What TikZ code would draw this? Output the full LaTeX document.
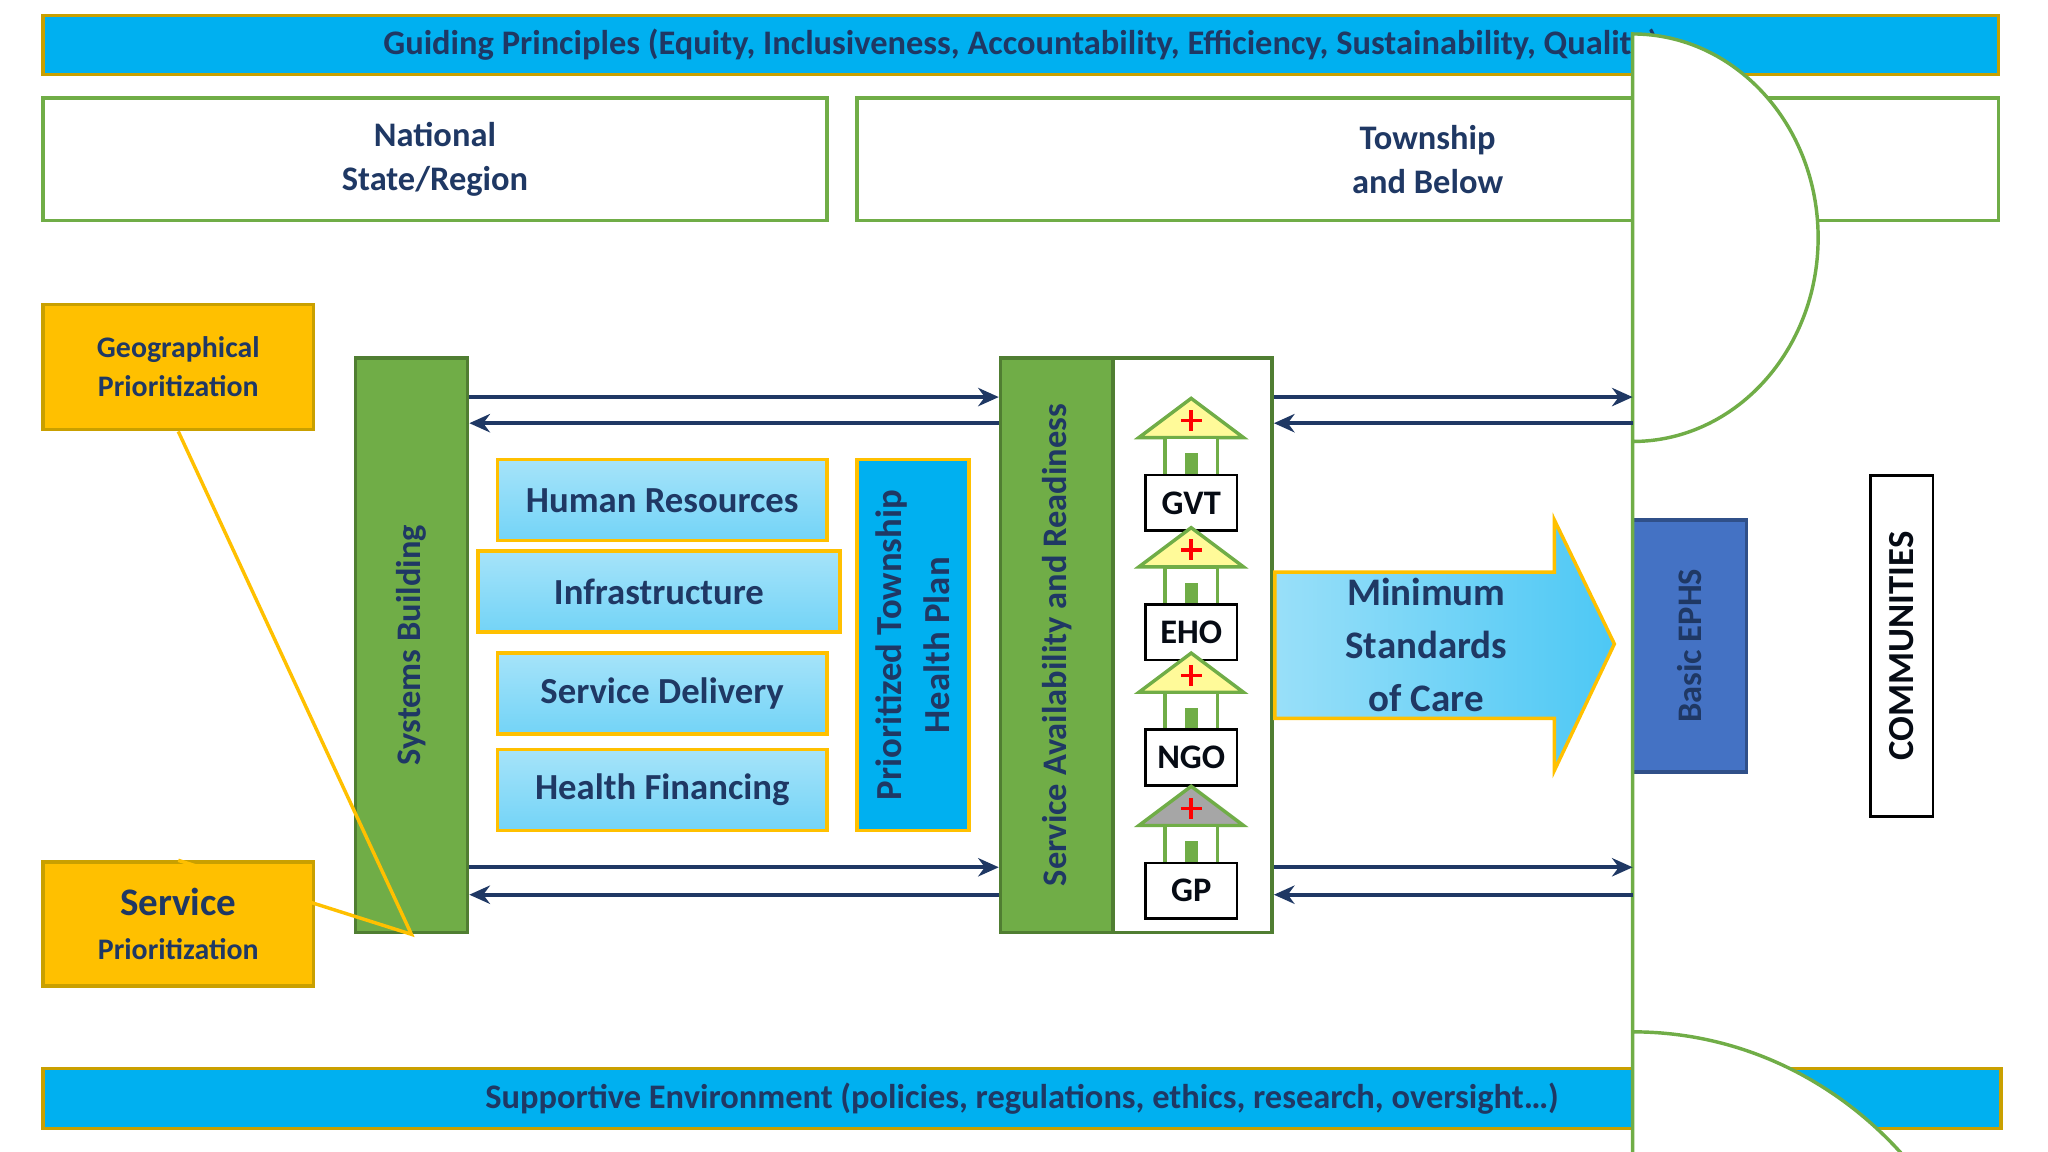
\documentclass[tikz,border=0pt]{standalone}
\usepackage{fontspec}
\setmainfont{Carlito}
\usetikzlibrary{arrows.meta,calc}
\definecolor{navy}{HTML}{1F3864}
\definecolor{cyanbar}{HTML}{00B0F0}
\definecolor{goldbd}{HTML}{C9A000}
\definecolor{amber}{HTML}{FFC000}
\definecolor{leaf}{HTML}{70AD47}
\definecolor{leafdk}{HTML}{507E32}
\definecolor{ephs}{HTML}{4472C4}
\newcommand\boxat[7]{\node[#1,minimum width={(#5-#3)*0.02cm},minimum height={(#6-#4)*0.02cm}] (#2) at ({(#3+#5)/2},{(#4+#6)/2}) {#7};}
\newcommand\vboxat[7]{\node[#1,rotate=90,minimum height={(#5-#3)*0.02cm},minimum width={(#6-#4)*0.02cm}] (#2) at ({(#3+#5)/2},{(#4+#6)/2}) {#7};}
\begin{document}
\begin{tikzpicture}[x=0.02cm,y=-0.02cm,
	font=\bfseries\fontsize{15}{19}\selectfont, text=navy,
	bar/.style={draw=goldbd,line width=1.5pt,fill=cyanbar,inner sep=0pt},
	level/.style={draw=leaf,line width=1.5pt,fill=white,inner sep=0pt,align=center},
	prio/.style={draw=goldbd,line width=1.5pt,fill=amber,inner sep=0pt,align=center},
	pillar/.style={draw=leafdk,line width=1.5pt,fill=leaf,inner sep=0pt},
	block/.style={draw=amber,line width=1.5pt,top color=cyanbar!35,bottom color=cyanbar!55,inner sep=0pt,font=\bfseries\fontsize{16}{19}\selectfont},
	tag/.style={draw=black,line width=1.2pt,fill=white,inner sep=0pt,text=black!80!navy},
	link/.style={navy,line width=1.8pt,-{Stealth[length=9pt,width=8pt]}}]
	\useasboundingbox (0,0) rectangle (1568,882);
	% bars and levels
	\boxat{bar}{top}{33}{12}{1530}{57}{Guiding Principles (Equity, Inclusiveness, Accountability, Efficiency, Sustainability, Quality)}
	\boxat{bar}{bottom}{33}{818}{1532}{864}{Supportive Environment (policies, regulations, ethics, research, oversight\dots)}
	\boxat{level}{nat}{33}{75}{633}{169}{National\\State/Region}
	\boxat{level}{town}{656}{75}{1530}{169}{Township\\and Below}
	% prioritization
	\boxat{prio,font=\bfseries\fontsize{13}{17}\selectfont}{geo}{33}{233}{240}{329}{Geographical\\Prioritization}
	\boxat{prio}{serv}{33}{660}{240}{755}{{\fontsize{17}{20}\selectfont Service}\\{\fontsize{13}{17}\selectfont Prioritization}}
	\vboxat{pillar}{sys}{272}{274}{358}{714}{Systems Building}
	\draw[amber,line width=1.5pt] (geo.south) -- (sys.west) -- (serv.north);
	% building blocks
	\boxat{block}{hr}{381}{352}{633}{414}{Human Resources}
	\boxat{block}{infra}{366}{422}{643}{484}{Infrastructure}
	\boxat{block}{sd}{381}{500}{633}{562}{Service Delivery}
	\boxat{block}{hf}{381}{574}{633}{636}{Health Financing}
	\vboxat{bar,draw=amber,align=center,font=\bfseries\fontsize{16}{21}\selectfont}{plan}{656}{352}{742}{636}{Prioritized Township\\Health Plan}
	% service availability
	\vboxat{pillar}{sar}{766}{274}{852}{714}{Service Availability and Readiness}
	\boxat{level,draw=leafdk}{fac}{852}{274}{974}{714}{}
	\foreach \y/\lbl/\roof in {305/GVT/yellow!40, 404/EHO/yellow!40, 500/NGO/yellow!40, 602/GP/gray!70}{
		\draw[leaf,line width=1.5pt,fill=\roof] (872,\y+30) -- (912,\y) -- (952,\y+30) -- cycle;
		\draw[leaf,line width=1.5pt,fill=white] (892,\y+30) rectangle (932,\y+62);
		\fill[leaf] (907,\y+42) rectangle (917,\y+62);
		\draw[red,line width=1.5pt] (904,\y+17) -- (920,\y+17) (912,\y+9) -- (912,\y+25);
		\node[tag,minimum width=1.4cm,minimum height=0.85cm] (h\lbl) at (912,\y+80) {\lbl};
	}
	% minimum standards arrow
	\draw[amber,line width=1.5pt,left color=cyanbar!40,right color=cyanbar!70]
		(976,438) -- (1190,438) -- (1190,398) -- (1236,493) -- (1190,590) -- (1190,550) -- (976,550) -- cycle;
	\node[align=center,font=\bfseries\fontsize{17}{23}\selectfont] (mins) at (1092,494) {Minimum\\Standards\\of Care};
	\vboxat{pillar,draw=ephs!70!black,fill=ephs}{ephs}{1250}{398}{1337}{591}{Basic EPHS}
	% communities
	\draw[leaf,line width=1.5pt,fill=white] (1250,197) -- (1250,338) arc[start angle=-90,end angle=90,x radius=142,y radius=-156] -- (1250,790) arc[start angle=-90,end angle=90,x radius=283,y radius=297] -- cycle;
	\vboxat{tag,font=\bfseries\fontsize{16}{19}\selectfont}{comm}{1432}{364}{1480}{625}{COMMUNITIES}
	% links
	\coordinate (cu) at (1250,304); \coordinate (cl) at (1250,664);
	\draw[link] (sys.south |- 0,304) -- (sar.north |- 0,304);
	\draw[link] (sar.north |- 0,324) -- (sys.south |- 0,324);
	\draw[link] (sys.south |- 0,664) -- (sar.north |- 0,664);
	\draw[link] (sar.north |- 0,685) -- (sys.south |- 0,685);
	\draw[link] (fac.east |- cu) -- (cu);
	\draw[link] (cu |- 0,324) -- (fac.east |- 0,324);
	\draw[link] (fac.east |- cl) -- (cl);
	\draw[link] (cl |- 0,685) -- (fac.east |- 0,685);
\end{tikzpicture}
\end{document}
